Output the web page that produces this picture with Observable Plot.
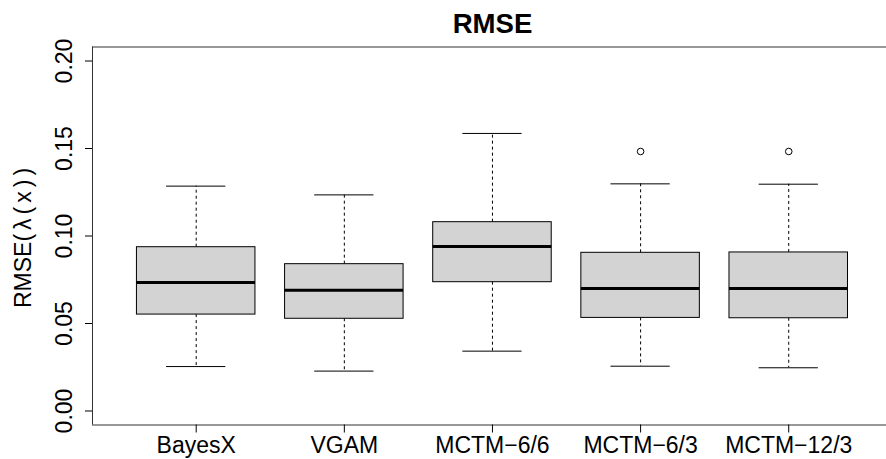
<!DOCTYPE html>
<html>
<head>
<meta charset="utf-8">
<script src="https://cdn.jsdelivr.net/npm/d3@7"></script>
<script src="https://cdn.jsdelivr.net/npm/@observablehq/plot@0.6"></script>
<style>
  body { margin: 0; background: #ffffff; }
</style>
</head>
<body>
<div id="chart"></div>
<script>
// ---- data ----
const title = "RMSE";
const yLabelMain = "RMSE";
const yLabelArg = "(\u03BB(x))";
const yLabel = yLabelMain + yLabelArg;
const categories = ["BayesX", "VGAM", "MCTM\u22126/6", "MCTM\u22126/3", "MCTM\u221212/3"];
const lowerWhisker = [0.0254, 0.0228, 0.0342, 0.0256, 0.0247];
const q1 = [0.0551, 0.0527, 0.0736, 0.0532, 0.0530];
const median = [0.0734, 0.0690, 0.0940, 0.0700, 0.0700];
const q3 = [0.0936, 0.0839, 0.1079, 0.0904, 0.0906];
const upperWhisker = [0.1285, 0.1235, 0.1586, 0.1298, 0.1296];
const outlierCategories = ["MCTM\u22126/3", "MCTM\u221212/3"];
const outlierValues = [0.1483, 0.1483];
const yTicks = [0, 0.05, 0.10, 0.15, 0.20];
const yTickLabels = ["0.00", "0.05", "0.10", "0.15", "0.20"];

// ---- derived tables ----
const positions = categories.map((_, i) => i + 1);
const boxes = categories.map((c, i) => ({
  pos: i + 1, lower: lowerWhisker[i], q1: q1[i], median: median[i], q3: q3[i], upper: upperWhisker[i]
}));
const outliers = outlierCategories.map((c, i) => ({pos: categories.indexOf(c) + 1, value: outlierValues[i]}));

const xDomain = [0.3, 5.66];
const yDomain = [-0.008, 0.208];
const halfBox = 0.4, halfCap = 0.2;
const font = "'Liberation Sans', Arial, Helvetica, sans-serif";

const chart = Plot.plot({
  width: 886,
  height: 459,
  marginTop: 46.5,
  marginBottom: 34.5,
  marginLeft: 92,
  marginRight: 0,
  style: {fontFamily: font, fontSize: "23px", background: "#ffffff", color: "#000"},
  x: {type: "linear", domain: xDomain},
  y: {type: "linear", domain: yDomain},
  marks: [
    // frame (left, top, bottom)
    Plot.ruleY([yDomain[0], yDomain[1]], {stroke: "#333", strokeWidth: 1}),
    Plot.ruleX([xDomain[0]], {stroke: "#333", strokeWidth: 1}),
    // whiskers
    Plot.ruleX(boxes, {x: "pos", y1: "q3", y2: "upper", stroke: "#000", strokeDasharray: "3,3"}),
    Plot.ruleX(boxes, {x: "pos", y1: "q1", y2: "lower", stroke: "#000", strokeDasharray: "3,3"}),
    // caps
    Plot.ruleY(boxes, {y: "upper", x1: d => d.pos - halfCap, x2: d => d.pos + halfCap, stroke: "#000"}),
    Plot.ruleY(boxes, {y: "lower", x1: d => d.pos - halfCap, x2: d => d.pos + halfCap, stroke: "#000"}),
    // boxes
    Plot.rect(boxes, {x1: d => d.pos - halfBox, x2: d => d.pos + halfBox, y1: "q1", y2: "q3", fill: "#d3d3d3", stroke: "#000", strokeWidth: 1}),
    // medians
    Plot.ruleY(boxes, {y: "median", x1: d => d.pos - halfBox, x2: d => d.pos + halfBox, stroke: "#000", strokeWidth: 3}),
    // outliers
    Plot.dot(outliers, {x: "pos", y: "value", r: 3.3, stroke: "#000", fill: "none", strokeWidth: 1}),
    // axes
    Plot.axisX(positions, {tickFormat: d => categories[d - 1], tickSize: 8, tickPadding: 4, fontSize: 23, label: null, stroke: "#000"}),
    Plot.axisY(yTicks, {tickSize: 7, tickFormat: () => "", label: null, stroke: "#000"}),
    Plot.text(yTicks, {y: d => d, text: (d, i) => yTickLabels[i], frameAnchor: "left", dx: -28, rotate: -90, textAnchor: "middle", lineAnchor: "middle", fontSize: 23, fill: "#000"}),
    // y label
    Plot.text([yLabel], {text: d => d, frameAnchor: "left", dx: -68.5, rotate: -90, textAnchor: "middle", lineAnchor: "middle", fontSize: 23, fill: "#000", className: "ylab"}),
    // title
    Plot.text([title], {text: d => d, frameAnchor: "top", dx: 3, dy: -14.2, lineAnchor: "bottom", fontSize: 27.6, fontWeight: "bold", fill: "#000"})
  ]
});
document.getElementById("chart").appendChild(chart);

// widen the math part of the y label, as R's plotmath spaces it
d3.select(chart).selectAll("text").filter(function() { return this.textContent === yLabel; })
  .each(function() {
    const t = d3.select(this);
    t.text(null);
    t.append("tspan").text(yLabelMain);
    t.append("tspan").attr("letter-spacing", "4px").text(yLabelArg);
  });
</script>
</body>
</html>
